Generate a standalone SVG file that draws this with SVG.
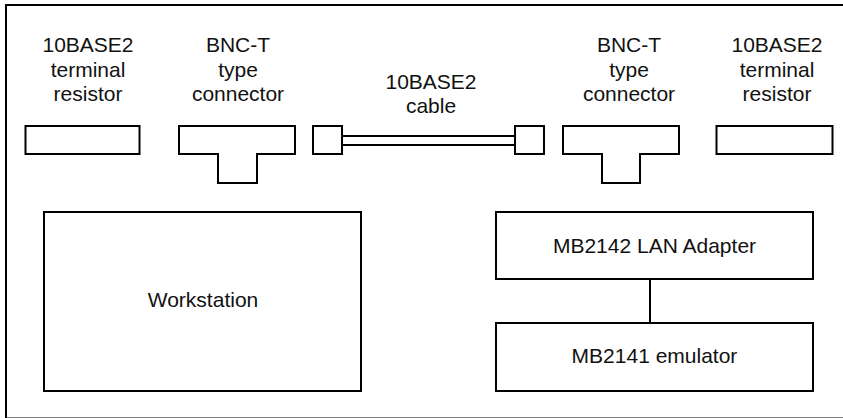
<svg xmlns="http://www.w3.org/2000/svg" width="843" height="418" viewBox="0 0 843 418">
<style>
.s{fill:#fff;stroke:#000;stroke-width:2}
.ln{fill:none;stroke:#000;stroke-width:2}
.t{font-family:"Liberation Sans",Arial,sans-serif;font-size:21px;fill:#111;text-anchor:middle}
</style>
<rect width="843" height="418" fill="#fff"/>
<rect id="frame" x="6" y="5" width="850" height="413.5" fill="none" stroke="#000" stroke-width="2"/>
<g id="term-left">
<text class="t" x="88" y="52">10BASE2</text>
<text class="t" x="88" y="76.5">terminal</text>
<text class="t" x="88" y="101">resistor</text>
<rect class="s" x="25.5" y="126" width="114" height="28"/>
</g>
<g id="bnc-left">
<text class="t" x="238" y="52">BNC-T</text>
<text class="t" x="238" y="76.5">type</text>
<text class="t" x="238" y="101">connector</text>
<polygon class="s" points="179,126 295,126 295,154 257,154 257,183 218,183 218,154 179,154"/>
</g>
<g id="cable">
<text class="t" x="431" y="88.5">10BASE2</text>
<text class="t" x="431" y="113">cable</text>
<line class="ln" x1="342" y1="136" x2="515" y2="136"/>
<line class="ln" x1="342" y1="145" x2="515" y2="145"/>
<rect class="s" x="313" y="126" width="29" height="28"/>
<rect class="s" x="515" y="126" width="29" height="28"/>
</g>
<g id="bnc-right">
<text class="t" x="629" y="52">BNC-T</text>
<text class="t" x="629" y="76.5">type</text>
<text class="t" x="629" y="101">connector</text>
<polygon class="s" points="563,126 679,126 679,154 640,154 640,183 602,183 602,154 563,154"/>
</g>
<g id="term-right">
<text class="t" x="777" y="52">10BASE2</text>
<text class="t" x="777" y="76.5">terminal</text>
<text class="t" x="777" y="101">resistor</text>
<rect class="s" x="716.5" y="126" width="116" height="28"/>
</g>
<g id="workstation">
<rect class="s" x="44" y="212" width="317" height="179"/>
<text class="t" x="203" y="307">Workstation</text>
</g>
<g id="connectors">
<line class="ln" x1="650" y1="279" x2="650" y2="323"/>
</g>
<g id="lan-adapter">
<rect class="s" x="496" y="212" width="317" height="67"/>
<text class="t" x="654.5" y="252.5">MB2142 LAN Adapter</text>
</g>
<g id="emulator">
<rect class="s" x="496" y="323" width="317" height="68"/>
<text class="t" x="654.5" y="363">MB2141 emulator</text>
</g>
</svg>
